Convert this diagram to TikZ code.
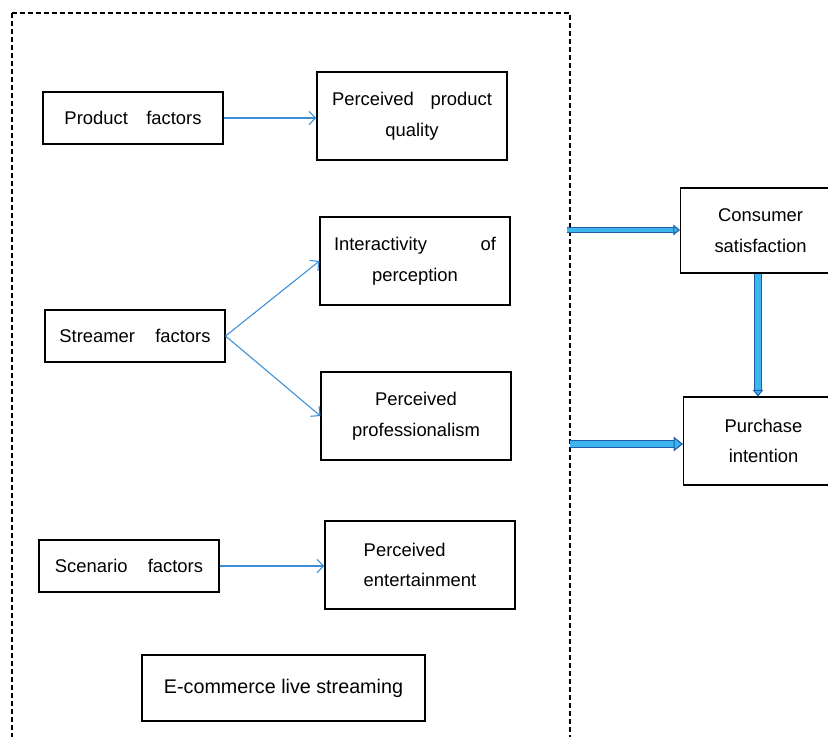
\documentclass[tikz,border=0pt]{standalone}
\usepackage{fontspec}
\setmainfont{Liberation Sans}
\usetikzlibrary{arrows.meta}
\definecolor{link-blue}{HTML}{3A8FD8}
\definecolor{flow-edge}{HTML}{1F5DA6}
\definecolor{flow-fill}{HTML}{3DB5EE}

\tikzset{
  factorbox/.style={draw, line width=0.8pt, minimum width=180pt*0.75, minimum height=52pt*0.75,
                    font=\fontsize{13.8}{16}\selectfont, inner sep=0pt},
  perceivebox/.style={draw, line width=0.8pt, minimum width=190pt*0.75, minimum height=88pt*0.75,
                      align=center, font=\fontsize{13.8}{23}\selectfont, inner sep=0pt},
  thinlink/.style={link-blue, line width=0.8pt, -{Straight Barb[length=5pt,width=10pt]}},
  biglink/.style={draw=flow-edge, line width=0.8pt, double=flow-fill, double distance=3.2pt,
                  -{Triangle[length=5pt,width=8pt,fill=flow-fill]}},
  widelink/.style={biglink, double distance=5pt,
                   -{Triangle[length=7pt,width=11pt,fill=flow-fill]}}
}

\begin{document}
\begin{tikzpicture}[x=0.75pt, y=-0.75pt]
    \useasboundingbox (0,0) rectangle (828,737);
    \clip (0,0) rectangle (828,737);
    % outer dashed frame
    \draw[dashed, line width=0.9pt, dash pattern=on 4pt off 2pt] (12,13) -- (570,13) -- (570,760)
      (12,13) -- (12,760);

    \node[factorbox] (product) at (133,118) {Product\hspace{1em}factors};
    \node[factorbox] (streamer) at (135,336) {Streamer\hspace{1.1em}factors};
    \node[factorbox] (scenario) at (129,566) {Scenario\hspace{1.1em}factors};

    \node[perceivebox, text width=160pt*0.75] (quality) at (412,116)
          {Perceived\hfill product\\ quality};
    \node[perceivebox, text width=162pt*0.75] (interact) at (415,261)
          {Interactivity\hfill of\\ perception};
    \node[perceivebox] (profess) at (416,416) {Perceived\\ professionalism};
    \node[perceivebox, align=left] (entertain) at (420,565) {Perceived\\ entertainment};

    \node[draw, line width=0.8pt, minimum width=283pt*0.75, minimum height=66pt*0.75,
          font=\fontsize{14.8}{17}\selectfont] (live) at (283.5,688) {E-commerce live streaming};

    \node[perceivebox, minimum width=160pt*0.75, minimum height=85pt*0.75, anchor=west]
          (satisfy) at (680,230.5) {Consumer\\ satisfaction};
    \node[perceivebox, minimum width=160pt*0.75, minimum height=88pt*0.75, anchor=west]
          (purchase) at (683,441) {Purchase\\ intention};

    \draw[thinlink] (product) -- (quality.west |- product);
    \draw[thinlink] (streamer.east) -- (interact.west);
    \draw[thinlink] (streamer.east) -- (profess.west);
    \draw[thinlink] (scenario) -- (entertain.west |- scenario);

    \coordinate (gateA) at (567,230);
    \coordinate (gateB) at (570,444);
    \draw[biglink] (gateA) -- (satisfy.west |- gateA);
    \draw[widelink] (gateB) -- (purchase.west |- gateB);
    \draw[biglink, double distance=3.8pt] (satisfy.south -| 758,0) -- (purchase.north -| 758,0);
\end{tikzpicture}
\end{document}
